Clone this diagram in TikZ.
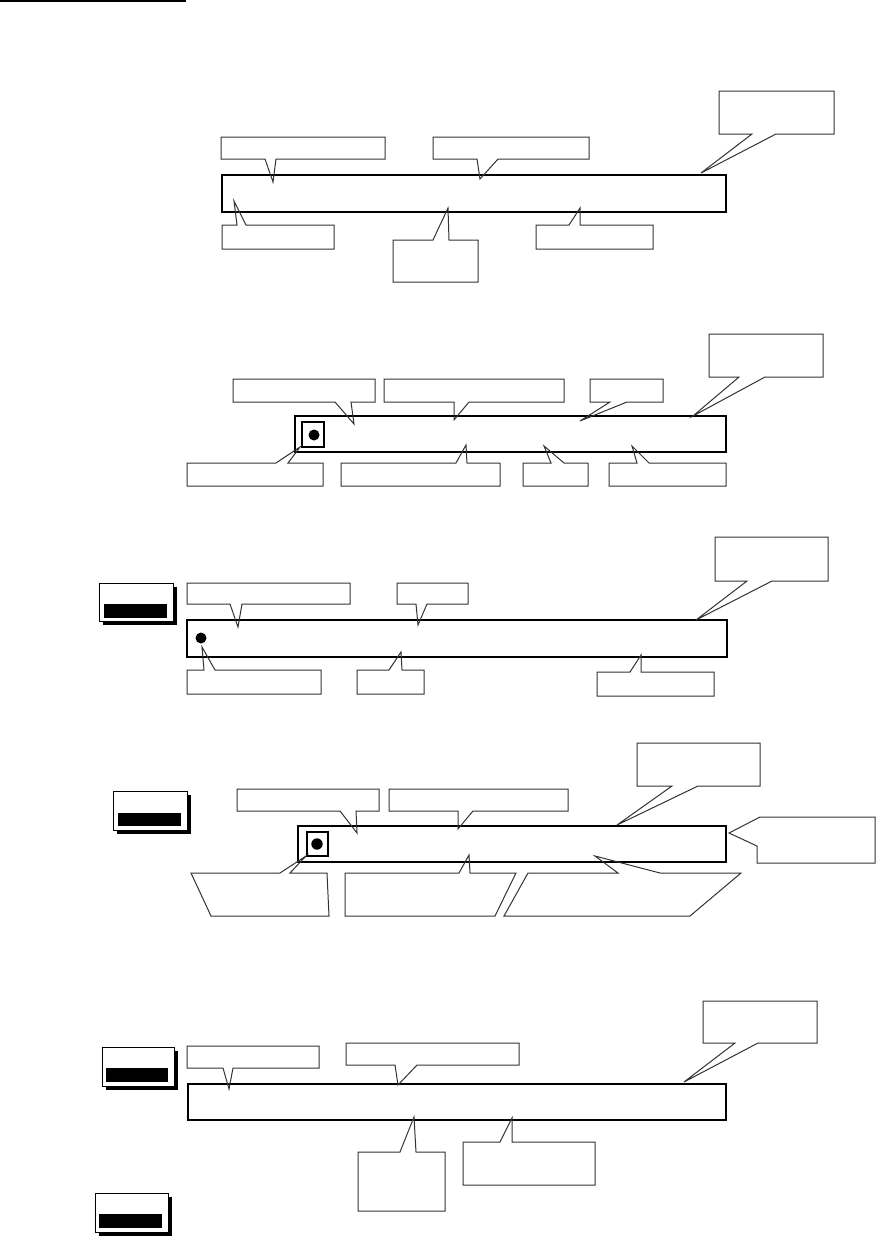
\documentclass[tikz,border=0pt]{standalone}
\begin{document}
\begin{tikzpicture}[x=1pt,y=-1pt]
\tikzset{
  callout/.style={draw=black!80,line width=1pt,line join=miter},
  barbox/.style={draw=black,line width=1.1pt},
  baredge/.style={draw=black,line width=2pt,line cap=rect},
  dotmark/.style={fill=black},
  sqmark/.style={draw=black,line width=1.4pt},
  btnshadow/.style={fill=black},
  btnface/.style={draw=black,line width=0.9pt,fill=white},
  btninner/.style={fill=black}
}
% callout above a bar: pointer on the bottom edge
\newcommand{\calAbove}[8]{\draw[callout] (#1,#2) -- (#3,#2) -- (#3,#4) -- (#6,#4) -- (#7,#8) -- (#5,#4) -- (#1,#4) -- cycle;}
% callout below a bar: pointer on the top edge
\newcommand{\calBelow}[8]{\draw[callout] (#1,#2) -- (#5,#2) -- (#7,#8) -- (#6,#2) -- (#3,#2) -- (#3,#4) -- (#1,#4) -- cycle;}
% button with shadow
\newcommand{\btn}[8]{\fill[btnshadow] (#1+4,#2+4) rectangle (#3+4,#4+4);
  \draw[btnface] (#1,#2) rectangle (#3,#4);
  \fill[btninner] (#5,#6) rectangle (#7,#8);}

\useasboundingbox[fill=white] (0,0) rectangle (876,1237);

% top rule
\draw[line width=2pt] (0,1) -- (186,1);

%%%%% Section 1
\draw[barbox] (222,175) rectangle (726,212);
\draw[baredge] (222,175) -- (726,175) -- (726,212) -- (222,212);
\calAbove{221}{137}{385}{159}{265}{276}{273}{182}
\calAbove{433}{137}{589}{159}{477}{498}{480}{179}
\calAbove{719}{91}{834}{134}{752}{776}{701}{173}
\calBelow{222}{225}{334}{249}{237}{246}{234}{201}
\calBelow{393}{240}{478}{282}{433}{449}{448}{208}
\calBelow{536}{225}{653}{249}{569}{580}{580}{208}

%%%%% Section 2
\draw[barbox] (295,416) rectangle (726,452);
\draw[baredge] (295,416) -- (726,416);
\draw[sqmark] (302,422) rectangle (324,447);
\fill[dotmark] (314,435) circle (5.5);
\calAbove{233}{379}{375}{402}{335}{351}{354}{424}
\calAbove{384}{379}{564}{402}{454}{469}{454}{420}
\calAbove{590}{379}{663}{402}{610}{627}{580}{421}
\calAbove{709}{334}{823}{377}{739}{765}{693}{416}
\calBelow{187}{463}{323}{486}{276}{288}{300}{447}
\calBelow{341}{463}{500}{486}{456}{467}{466}{445}
\calBelow{523}{463}{588}{486}{551}{564}{544}{446}
\calBelow{609}{463}{726}{486}{637}{649}{632}{446}

%%%%% Section 3
\btn{99}{583}{173}{621}{104}{604}{167}{618}
\draw[barbox] (187,620) rectangle (727,657);
\draw[baredge] (727,620) -- (727,657) -- (187,657);
\fill[dotmark] (201,638) circle (5.5);
\calAbove{187}{583}{350}{604}{230}{242}{238}{627}
\calAbove{397}{583}{468}{604}{416}{427}{418}{625}
\calAbove{715}{537}{828}{581}{747}{772}{696}{620}
\calBelow{187}{670}{321}{694}{204}{215}{202}{647}
\calBelow{357}{670}{424}{694}{389}{402}{401}{652}
\calBelow{597}{672}{714}{696}{630}{641}{641}{655}

%%%%% Section 4
\btn{113}{791}{187}{830}{118}{813}{181}{826}
\draw[barbox] (298,826) rectangle (726,862);
\draw[baredge] (726,826) -- (726,862) -- (298,862);
\draw[sqmark] (307,832) rectangle (328,856);
\fill[dotmark] (317,844) circle (5.7);
\calAbove{237}{789}{379}{811}{340}{356}{357}{833}
\calAbove{389}{789}{568}{811}{458}{473}{458}{829}
\calAbove{637}{743}{760}{786}{672}{698}{617}{825}
\draw[callout] (760,817) -- (875,817) -- (875,863) -- (757,863) -- (757,846) -- (729,833) -- cycle;
\draw[callout] (191,873) -- (280,873) -- (306,856) -- (290,873) -- (327,873) -- (329,916) -- (211,916) -- cycle;
\draw[callout] (345,873) -- (459,873) -- (469,855) -- (470,873) -- (516,873) -- (495,916) -- (345,916) -- cycle;
\draw[callout] (528,873) -- (618,873) -- (595,856) -- (660,873) -- (741,873) -- (690,916) -- (504,916) -- cycle;

%%%%% Section 5
\btn{102}{1047}{174}{1086}{106}{1068}{168}{1082}
\btn{95}{1193}{168}{1232}{99}{1214}{162}{1228}
\draw[barbox] (188,1084) rectangle (726,1120);
\draw[baredge] (188,1084) -- (726,1084) -- (726,1120);
\calAbove{187}{1046}{319}{1068}{223}{233}{229}{1089}
\calAbove{346}{1043}{519}{1065}{395}{417}{398}{1085}
\calAbove{703}{1001}{817}{1043}{735}{758}{684}{1082}
\calBelow{358}{1152}{445}{1211}{400}{416}{414}{1117}
\calBelow{463}{1142}{595}{1185}{500}{512}{512}{1118}
\end{tikzpicture}
\end{document}
